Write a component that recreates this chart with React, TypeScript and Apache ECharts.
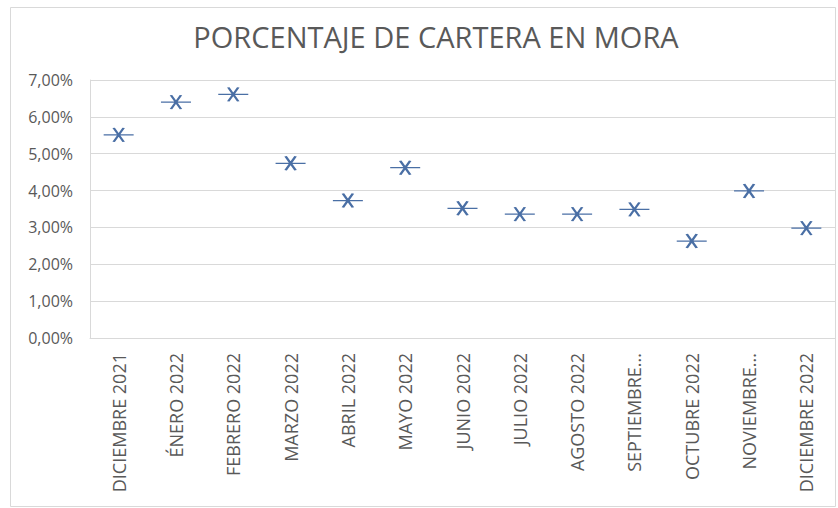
import React, { useEffect, useRef } from "react";
import * as echarts from "echarts";

const categories = [
  "DICIEMBRE 2021",
  "ÉNERO 2022",
  "FEBRERO 2022",
  "MARZO 2022",
  "ABRIL 2022",
  "MAYO 2022",
  "JUNIO 2022",
  "JULIO 2022",
  "AGOSTO 2022",
  "SEPTIEMBRE 2022",
  "OCTUBRE 2022",
  "NOVIEMBRE 2022",
  "DICIEMBRE 2022",
];

const shownLabels = [
  "DICIEMBRE 2021",
  "ÉNERO 2022",
  "FEBRERO 2022",
  "MARZO 2022",
  "ABRIL 2022",
  "MAYO 2022",
  "JUNIO 2022",
  "JULIO 2022",
  "AGOSTO 2022",
  "SEPTIEMBRE...",
  "OCTUBRE 2022",
  "NOVIEMBRE...",
  "DICIEMBRE 2022",
];

const moraPct = [5.51, 6.4, 6.61, 4.74, 3.73, 4.62, 3.52, 3.36, 3.36, 3.49, 2.63, 3.99, 2.98];

const title = "PORCENTAJE DE CARTERA EN MORA";

export default function App() {
  const ref = useRef<HTMLDivElement>(null);
  useEffect(() => {
    if (!ref.current) return;
    const chart = echarts.init(ref.current, undefined, { renderer: "svg" });
    const textColor = "#595959";
    const font = "'Open Sans', 'Liberation Sans', sans-serif";
    chart.setOption({
      animation: false,
      backgroundColor: "#ffffff",
      title: {
        text: title,
        left: 431,
        top: 17,
        textAlign: "center",
        textStyle: { color: textColor, fontSize: 29, fontWeight: "normal", fontFamily: font },
      },
      graphic: [
        {
          type: "rect",
          shape: { x: 10.5, y: 7.5, width: 825, height: 499 },
          style: { fill: "none", stroke: "#d9d9d9", lineWidth: 1 },
          silent: true,
        },
      ],
      grid: { left: 90, right: 3, top: 80, bottom: 170, containLabel: false },
      xAxis: {
        type: "category",
        data: categories,
        axisLine: { show: true, lineStyle: { color: "#d9d9d9" } },
        axisTick: { show: false },
        axisLabel: {
          rotate: 90,
          margin: 15,
          color: textColor,
          fontSize: 18,
          fontFamily: font,
          interval: 0,
          formatter: (_v: string, i: number) => shownLabels[i],
        },
      },
      yAxis: {
        type: "value",
        min: 0,
        max: 7,
        interval: 1,
        axisLine: { show: true, lineStyle: { color: "#d9d9d9" } },
        axisTick: { show: false },
        splitLine: { lineStyle: { color: "#d9d9d9" } },
        axisLabel: {
          margin: 17,
          color: textColor,
          fontSize: 16,
          fontFamily: font,
          formatter: (v: number) => v.toFixed(2).replace(".", ",") + "%",
        },
      },
      series: [
        {
          type: "line",
          data: moraPct,
          lineStyle: { width: 0, opacity: 0 },
          symbol: "path://M0,7 L30,7 M10,0 L20,14 M20,0 L10,14",
          symbolSize: [30, 14],
          itemStyle: { color: "rgba(0,0,0,0)", borderColor: "#4a6fa5", borderWidth: 1.8 },
        },
      ],
    });
    return () => chart.dispose();
  }, []);
  return (
    <div
      ref={ref}
      style={{ position: "absolute", left: 0, top: 0, width: 838, height: 508 }}
    />
  );
}
